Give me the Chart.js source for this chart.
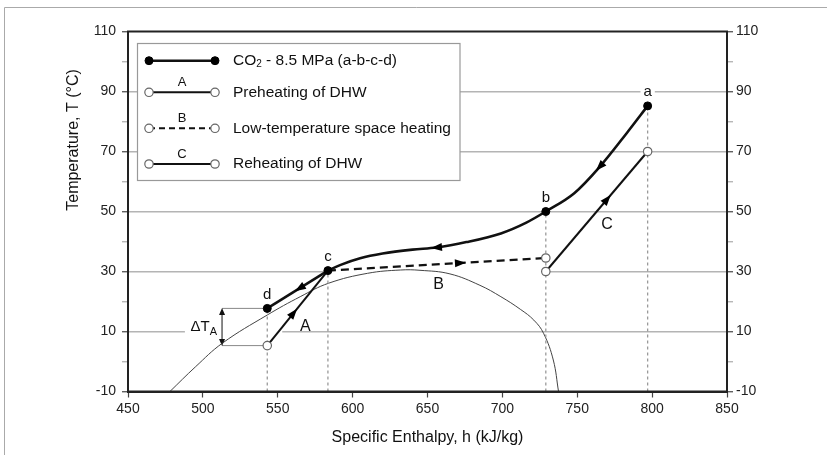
<!DOCTYPE html>
<html>
<head>
<meta charset="utf-8">
<script src="https://cdn.jsdelivr.net/npm/chart.js@4.4.1/dist/chart.umd.min.js"></script>
<style>
    html, body { margin: 0; padding: 0; background: #fff; }
    #wrap { width: 827px; height: 455px; position: relative; }
</style>
</head>
<body>
<div id="wrap"><canvas id="chart"></canvas></div>
<script>
// Axis ticks
const xTicks = [450, 500, 550, 600, 650, 700, 750, 800, 850];
const yTicks = [-10, 0, 10, 20, 30, 40, 50, 60, 70, 80, 90, 100, 110];
const yLabels = [-10, 10, 30, 50, 70, 90, 110];

// CO2 at 8.5 MPa, upper branch c -> b -> a (h kJ/kg, T degC)
const co2H = [583.5, 592, 605, 620, 640, 656, 676, 699, 716, 729, 748, 765, 783, 797];
const co2T = [30.3, 32.2, 34.4, 36.0, 37.3, 38.0, 39.8, 42.7, 46.3, 50, 56.1, 64.9, 76.1, 85.2];
// CO2 last part c -> d
const cdH = [543, 583.5];
const cdT = [17.7, 30.3];

// Water streams
const preH = [543, 583.5];   // A - preheating of DHW
const preT = [5.3, 30.3];
const lowH = [583.5, 729];   // B - low-temperature space heating
const lowT = [30.3, 34.5];
const reH = [729, 797];      // C - reheating of DHW
const reT = [30, 70];

// Saturation dome
const domeH = [478, 495, 513, 543, 565, 584, 610, 632, 645, 665, 685, 699, 712, 721, 727.5, 734, 737.5];
const domeT = [-10, -1.8, 6.1, 15.5, 21.6, 26.1, 29.4, 30.5, 30.4, 29.2, 25.4, 21.6, 17.4, 13.8, 9.4, 0.5, -10];

// State points
const stateNames = ['a', 'b', 'c', 'd'];
const stateH = [797, 729, 583.5, 543];
const stateT = [85.2, 50, 30.3, 17.7];

// Open end points of the water streams
const openH = [543, 729, 729, 797];
const openT = [5.3, 34.5, 30, 70];

// Stream letters
const streamNames = ['A', 'B', 'C'];
const streamLabelH = [568.4, 657.4, 769.9];
const streamLabelT = [11.6, 25.5, 45.5];

// Flow arrows: position and a point further along the flow
const arrowH = [765, 656, 564.6, 560.6, 672, 770];
const arrowT = [64.9, 38.0, 24.4, 16.2, 32.85, 54.1];
const arrowToH = [748, 640, 543, 583.5, 729, 797];
const arrowToT = [56.1, 37.3, 17.7, 30.3, 34.5, 70];

// Delta T_A bracket
const dtH = [512.8, 543];
const dtT = [5.3, 17.7];

const legendLabels = ['CO2 - 8.5 MPa (a-b-c-d)', 'Preheating of DHW', 'Low-temperature space heating', 'Reheating of DHW'];
const legendLetters = ['', 'A', 'B', 'C'];

const FONT = "'Liberation Sans', Arial, sans-serif";
const pts = (hs, ts) => hs.map((h, i) => ({ x: h, y: ts[i] }));

const datasets = [];
datasets.push({ data: pts(co2H, co2T), borderColor: '#111', borderWidth: 2.6, cubicInterpolationMode: 'monotone', pointRadius: 0, order: 2 });
datasets.push({ data: pts(cdH, cdT), borderColor: '#111', borderWidth: 2.6, pointRadius: 0, order: 2 });
datasets.push({ data: pts(preH, preT), borderColor: '#111', borderWidth: 2, pointRadius: 0, order: 3 });
datasets.push({ data: pts(lowH, lowT), borderColor: '#111', borderWidth: 2.4, borderDash: [8, 5], pointRadius: 0, order: 3 });
datasets.push({ data: pts(reH, reT), borderColor: '#111', borderWidth: 2, pointRadius: 0, order: 3 });
datasets.push({ data: pts(domeH, domeT), borderColor: '#444', borderWidth: 1, tension: 0.4, pointRadius: 0, order: 10 });
stateH.forEach((h, i) => {
    datasets.push({ data: [{ x: h, y: -10 }, { x: h, y: stateT[i] }], borderColor: '#9a9a9a', borderWidth: 1.3, borderDash: [3, 3], pointRadius: 0, order: 9 });
});
datasets.push({ data: pts(openH, openT), showLine: false, pointRadius: 4.2, pointBackgroundColor: '#fff', pointBorderColor: '#666', pointBorderWidth: 1.2, order: 1 });
datasets.push({ data: pts(stateH, stateT), showLine: false, pointRadius: 4, pointBackgroundColor: '#000', pointBorderColor: '#000', pointBorderWidth: 1, order: 0 });
datasets.forEach(d => { if (d.showLine === undefined) d.showLine = true; d.fill = false; });

function textW(ctx, s) { return ctx.measureText(s).width; }

function drawArrow(ctx, x, y, ang, len, half) {
    ctx.save();
    ctx.translate(x, y);
    ctx.rotate(ang);
    ctx.beginPath();
    ctx.moveTo(len / 2, 0);
    ctx.lineTo(-len / 2, -half);
    ctx.lineTo(-len / 2, half);
    ctx.closePath();
    ctx.fill();
    ctx.restore();
}

function circle(ctx, x, y, r, filled) {
    ctx.beginPath();
    ctx.arc(x, y, r, 0, Math.PI * 2);
    ctx.fillStyle = filled ? '#000' : '#fff';
    ctx.fill();
    ctx.lineWidth = filled ? 1 : 1.2;
    ctx.strokeStyle = filled ? '#000' : '#666';
    ctx.stroke();
}

const annotations = {
    id: 'annotations',
    beforeDatasetsDraw(chart) {
        const ctx = chart.ctx, xs = chart.scales.x, ys = chart.scales.y;
        ctx.save();
        // gaps in the grid lines
        ctx.fillStyle = '#fff';
        const gap = (h1, h2, t) => {
            ctx.fillRect(xs.getPixelForValue(h1), ys.getPixelForValue(t) - 2, xs.getPixelForValue(h2) - xs.getPixelForValue(h1), 4);
        };
        gap(488, 553, 10);
        gap(585, 727, 30);

        // state point letters
        ctx.font = '15px ' + FONT;
        ctx.textAlign = 'center';
        ctx.textBaseline = 'middle';
        stateNames.forEach((n, i) => {
            const px = xs.getPixelForValue(stateH[i]);
            const py = ys.getPixelForValue(stateT[i]) - 14;
            const w = textW(ctx, n) + 6;
            ctx.fillStyle = '#fff';
            ctx.fillRect(px - w / 2, py - 7, w, 14);
            ctx.fillStyle = '#111';
            ctx.fillText(n, px, py);
        });
        // stream letters
        ctx.font = '16px ' + FONT;
        streamNames.forEach((n, i) => {
            ctx.fillStyle = '#111';
            ctx.fillText(n, xs.getPixelForValue(streamLabelH[i]), ys.getPixelForValue(streamLabelT[i]));
        });

        // delta T_A bracket
        const bx = xs.getPixelForValue(dtH[0]), bx2 = xs.getPixelForValue(dtH[1]);
        const byLo = ys.getPixelForValue(dtT[0]), byHi = ys.getPixelForValue(dtT[1]);
        ctx.strokeStyle = '#888';
        ctx.lineWidth = 1;
        ctx.beginPath();
        ctx.moveTo(bx, byHi); ctx.lineTo(bx2, byHi);
        ctx.moveTo(bx, byLo); ctx.lineTo(bx2, byLo);
        ctx.stroke();
        ctx.strokeStyle = '#111';
        ctx.beginPath();
        ctx.moveTo(bx, byHi + 3); ctx.lineTo(bx, byLo - 3);
        ctx.stroke();
        ctx.fillStyle = '#111';
        drawArrow(ctx, bx, byHi + 3, -Math.PI / 2, 7, 3);
        drawArrow(ctx, bx, byLo - 3, Math.PI / 2, 7, 3);
        // label
        const ly = (byHi + byLo) / 2;
        ctx.font = '15px ' + FONT;
        ctx.textAlign = 'left';
        const dw = textW(ctx, '\u0394T');
        ctx.font = '11px ' + FONT;
        const sw = textW(ctx, 'A');
        const lx = bx - 5 - dw - sw;
        ctx.font = '15px ' + FONT;
        ctx.fillText('\u0394T', lx, ly);
        ctx.font = '11px ' + FONT;
        ctx.fillText('A', lx + dw, ly + 5);
        ctx.restore();
    },
    afterDatasetsDraw(chart) {
        const ctx = chart.ctx, xs = chart.scales.x, ys = chart.scales.y, a = chart.chartArea;
        ctx.save();
        // flow arrows
        ctx.fillStyle = '#000';
        arrowH.forEach((h, i) => {
            const px = xs.getPixelForValue(h), py = ys.getPixelForValue(arrowT[i]);
            const tx = xs.getPixelForValue(arrowToH[i]), ty = ys.getPixelForValue(arrowToT[i]);
            drawArrow(ctx, px, py, Math.atan2(ty - py, tx - px), 11, 4);
        });
        // frame of the plot
        ctx.strokeStyle = '#222';
        ctx.lineWidth = 2;
        ctx.strokeRect(a.left, a.top, a.right - a.left, a.bottom - a.top);

        // legend
        const x0 = 137.5, y0 = 43.5, w = 322.5, h = 137;
        ctx.fillStyle = '#fff';
        ctx.fillRect(x0, y0, w, h);
        ctx.strokeStyle = '#999';
        ctx.lineWidth = 1.2;
        ctx.strokeRect(x0, y0, w, h);
        const rows = [60.7, 92.3, 128.3, 164];
        legendLabels.forEach((lab, i) => {
            const y = rows[i];
            ctx.beginPath();
            ctx.moveTo(149, y);
            ctx.lineTo(215, y);
            ctx.setLineDash(i === 2 ? [6, 4] : []);
            ctx.lineWidth = i === 0 ? 2.6 : 2;
            ctx.strokeStyle = '#111';
            ctx.stroke();
            ctx.setLineDash([]);
            circle(ctx, 149, y, i === 0 ? 4 : 4.2, i === 0);
            circle(ctx, 215, y, i === 0 ? 4 : 4.2, i === 0);
            ctx.fillStyle = '#111';
            ctx.textBaseline = 'middle';
            if (legendLetters[i]) {
                ctx.font = '13px ' + FONT;
                ctx.textAlign = 'center';
                ctx.fillText(legendLetters[i], 182, y - 10);
            }
            ctx.font = '15.5px ' + FONT;
            ctx.textAlign = 'left';
            if (i === 0) {
                // CO2 with subscript
                ctx.fillText('CO', 233, y);
                let cx = 233 + textW(ctx, 'CO');
                ctx.font = '10px ' + FONT;
                ctx.fillText('2', cx, y + 4);
                cx += textW(ctx, '2');
                ctx.font = '15.5px ' + FONT;
                ctx.fillText(lab.slice(3), cx, y);
            } else {
                ctx.fillText(lab, 233, y);
            }
        });

        // axis titles
        ctx.fillStyle = '#111';
        ctx.font = '16px ' + FONT;
        ctx.textAlign = 'center';
        ctx.textBaseline = 'middle';
        ctx.fillText('Specific Enthalpy, h (kJ/kg)', (a.left + a.right) / 2, 438);
        ctx.translate(74, 140);
        ctx.rotate(-Math.PI / 2);
        ctx.fillText('Temperature, T (\u00B0C)', 0, 0);
        ctx.restore();

        // outer frame
        ctx.save();
        ctx.strokeStyle = '#aaa';
        ctx.lineWidth = 1;
        ctx.beginPath();
        ctx.moveTo(4.5, 460); ctx.lineTo(4.5, 7.5); ctx.lineTo(830, 7.5);
        ctx.stroke();
        ctx.restore();
    }
};

const yScale = (pos) => ({
    type: 'linear',
    position: pos,
    min: -10,
    max: 110,
    afterBuildTicks: s => { s.ticks = yTicks.map(v => ({ value: v })); },
    afterFit: s => { s.width = pos === 'left' ? 128 : 100; },
    ticks: {
        autoSkip: false,
        padding: pos === 'left' ? 6 : 3,
        color: '#222',
        font: { size: 14, family: FONT },
        callback: v => yLabels.includes(v) ? String(v) : ''
    },
    grid: {
        drawOnChartArea: pos === 'left',
        color: c => (c.tick && yLabels.includes(c.tick.value) && c.tick.value > -10 && c.tick.value < 110) ? '#b4b4b4' : 'rgba(0,0,0,0)',
        lineWidth: 1.5,
        tickLength: 6,
        tickWidth: 1.2,
        tickColor: c => (c.tick && yLabels.includes(c.tick.value)) ? '#444' : '#aaa'
    },
    border: { display: true, color: '#222', width: 2 }
});

new Chart(document.getElementById('chart'), {
    type: 'scatter',
    data: { datasets: datasets },
    options: {
        responsive: true,
        maintainAspectRatio: false,
        animation: false,
        events: [],
        layout: { padding: { top: 31.5, left: 0, right: 0, bottom: 0 } },
        plugins: { legend: { display: false }, tooltip: { enabled: false } },
        scales: {
            x: {
                type: 'linear',
                min: 450,
                max: 850,
                afterBuildTicks: s => { s.ticks = xTicks.map(v => ({ value: v })); },
                afterFit: s => { s.height = 63.5; },
                ticks: { padding: 3, color: '#222', font: { size: 14, family: FONT } },
                grid: { drawOnChartArea: false, tickLength: 6, tickWidth: 1.2, tickColor: '#444' },
                border: { display: true, color: '#222', width: 2 }
            },
            y: yScale('left'),
            y2: yScale('right')
        }
    },
    plugins: [annotations]
});
</script>
</body>
</html>
